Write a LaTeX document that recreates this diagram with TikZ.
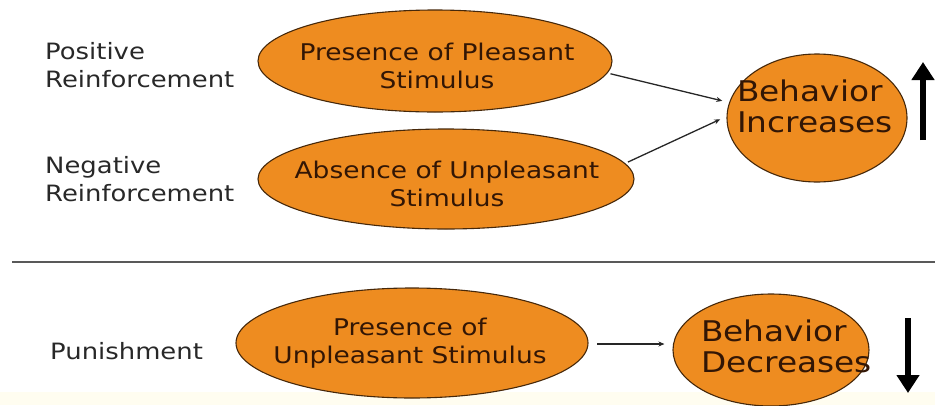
\documentclass[tikz,border=0pt]{standalone}
\usepackage{fontspec}
\setmainfont{DejaVu Sans}[FakeStretch=1.15]
\usetikzlibrary{shapes.geometric,arrows.meta}
\definecolor{orangefill}{RGB}{238,140,32}
\definecolor{ellline}{RGB}{70,40,10}
\definecolor{intext}{RGB}{50,22,5}
\definecolor{labtext}{RGB}{40,40,40}
\definecolor{paleband}{RGB}{255,253,240}
\tikzset{
  oval/.style={ellipse, draw=ellline, line width=1.1pt, fill=orangefill, inner sep=0pt},
  ovaltext/.style={text=intext, font=\fontsize{23}{28.5}\selectfont, align=center, inner sep=0pt},
  bigtext/.style={text=intext, font=\fontsize{28.5}{31}\selectfont, align=left, inner sep=0pt, anchor=west},
  sidelabel/.style={text=labtext, font=\fontsize{22.5}{28}\selectfont, align=left, inner sep=0pt, anchor=west},
  conn/.style={-{Stealth[length=6pt,width=5pt]}, draw=black!85, line width=1.3pt},
  bigarrow/.style={-{Triangle[length=18pt,width=22pt]}, line width=6.5pt, black}
}
\begin{document}
\begin{tikzpicture}[x=1pt,y=-1pt]
\useasboundingbox (0,0) rectangle (935,405);
\fill[paleband] (0,392) rectangle (935,405);
% ovals
\node[oval, minimum width=354pt, minimum height=102pt] (E1) at (435,61) {};
\node[oval, minimum width=376pt, minimum height=100pt] (E2) at (446,179) {};
\node[oval, minimum width=352pt, minimum height=110pt] (E3) at (412,343) {};
\node[oval, minimum width=180pt, minimum height=128pt] (E4) at (817,118) {};
\node[oval, minimum width=196pt, minimum height=112pt] (E5) at (771,350) {};
% texts in ovals
\node[ovaltext] (T1) at (437,66) {Presence of Pleasant\\Stimulus};
\node[ovaltext] (T2) at (447,184) {Absence of Unpleasant\\Stimulus};
\node[ovaltext] (T3) at (410,343) {Presence of\\Unpleasant Stimulus};
\node[bigtext] (T4) at (737,106) {Behavior\\Increases};
\node[bigtext] (T5) at (701,346) {Behavior\\Decreases};
% side labels
\node[sidelabel] (L1) at (45,65) {Positive\\Reinforcement};
\node[sidelabel] (L2) at (45,179) {Negative\\Reinforcement};
\node[sidelabel] (L3) at (50,351) {Punishment};
% separator
\coordinate (S1) at (12,262);
\coordinate (S2) at (935,262);
\draw[line width=2pt, black!65] (S1) -- (S2);
% connectors
\draw[conn, shorten <=3pt, shorten >=7pt] (E1.-4) -- (E4.170);
\draw[conn, shorten <=3pt, shorten >=7pt] (E2.5) -- (E4.179);
\coordinate (B1) at (597,344);
\draw[conn, shorten >=8pt] (B1) -- (B1 -| E5.west);
% big arrows
\coordinate (U1) at (923,140);
\coordinate (U2) at (923,62);
\coordinate (D1) at (908,318);
\coordinate (D2) at (908,393);
\draw[bigarrow] (U1) -- (U2);
\draw[bigarrow] (D1) -- (D2);
\end{tikzpicture}
\end{document}
